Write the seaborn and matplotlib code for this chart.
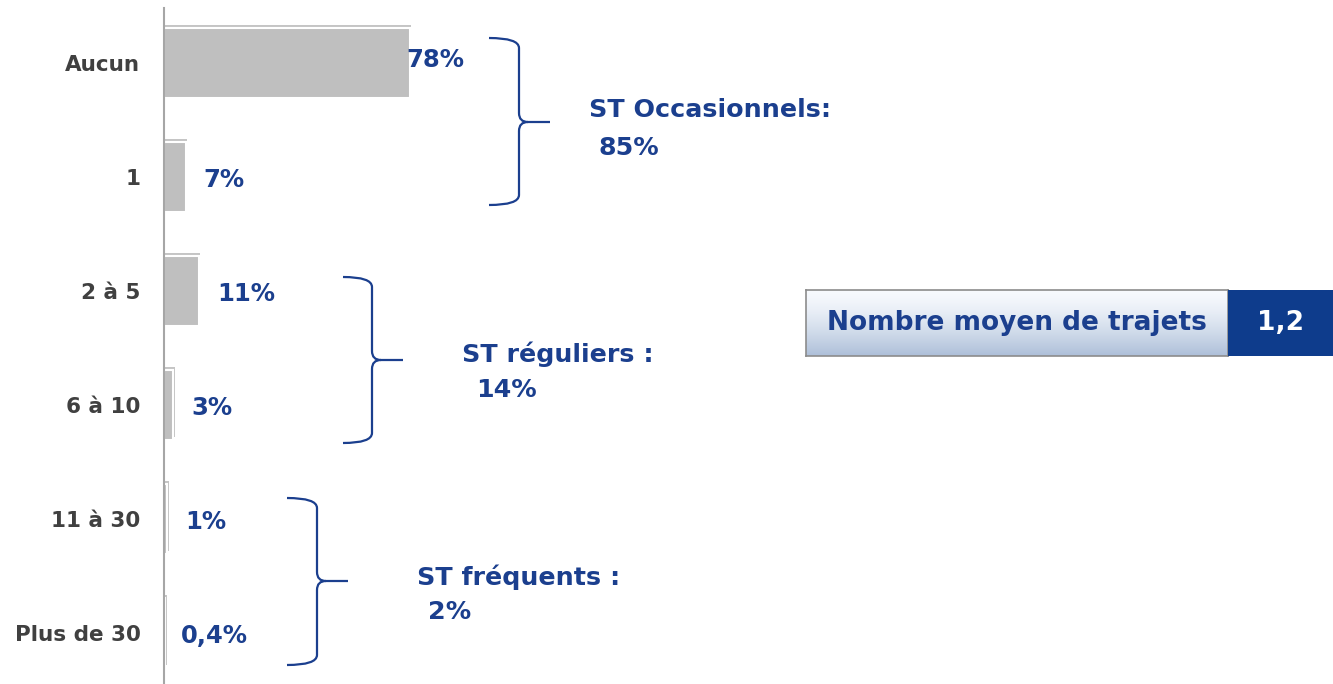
import matplotlib
matplotlib.use("Agg")
import matplotlib.pyplot as plt
import matplotlib.patheffects as pe
from matplotlib.path import Path
from matplotlib.patches import PathPatch
from matplotlib.transforms import Affine2D
import numpy as np
import seaborn as sns

# ---------------- data ----------------
categories = ["Aucun", "1", "2 à 5", "6 à 10", "11 à 30", "Plus de 30"]
values = [78, 7, 11, 3, 1, 0.4]
value_labels = ["78%", "7%", "11%", "3%", "1%", "0,4%"]
group_titles = ["ST Occasionnels:", "ST réguliers :", "ST fréquents :"]
group_values = ["85%", "14%", "2%"]
box_label = "Nombre moyen de trajets"
box_value = "1,2"

# ---------------- style ----------------
sns.set_theme(style="white")
plt.rcParams["font.family"] = ["DejaVu Sans"]
BLUE = "#1B3F8E"
DARK_BLUE = "#0E3C8C"
GREY_TXT = "#404040"
W, H = 1333, 684

fig = plt.figure(figsize=(W / 100, H / 100), dpi=100)
px = Affine2D().scale(1 / W, -1 / H).translate(0, 1) + fig.transFigure

ax = fig.add_axes([164 / W, 0, 1 - 164 / W, (H - 8) / H])
sns.barplot(x=values, y=categories, orient="h", color="#BFBFBF", saturation=1,
            width=0.614, edgecolor="white", linewidth=1.5, ax=ax)
for p in ax.patches:
    p.set_path_effects([pe.SimplePatchShadow(offset=(1, 2), shadow_rgbFace="#707070", alpha=0.4),
                        pe.Normal()])
ax.set_xlim(0, (W - 164) / 3.15)
ax.set_ylim(5 + 51 / 114, -55 / 114)
ax.set_xlabel("")
ax.set_ylabel("")
ax.set_xticks([])
for s in ["top", "right", "bottom"]:
    ax.spines[s].set_visible(False)
ax.spines["left"].set_color("#A6A6A6")
ax.spines["left"].set_linewidth(1.5)
ax.tick_params(axis="y", length=0, pad=17)
for t in ax.get_yticklabels():
    t.set_fontsize(15.5)
    t.set_fontweight("bold")
    t.set_color(GREY_TXT)

label_offsets = [-3, 17, 19, 18, 18, 16]  # px
for i, (v, lab) in enumerate(zip(values, value_labels)):
    ax.annotate(lab, xy=(v, i), xytext=(label_offsets[i] * 0.72, 2 if i == 0 else -2),
                textcoords="offset points", ha="left", va="center",
                fontsize=17.5, fontweight="bold", color=BLUE)

# ---------------- braces ----------------
def brace(xl, xm, xt, yt, ym, yb, r=10, rm=9):
    verts = [
        (xl, yt), (xm, yt), (xm, yt + r),
        (xm, ym - rm),
        (xm, ym), (xm + rm, ym),
        (xt, ym),
        (xm + rm, ym), (xm, ym), (xm, ym + rm),
        (xm, yb - r),
        (xm, yb), (xl, yb),
    ]
    codes = [Path.MOVETO, Path.CURVE3, Path.CURVE3,
             Path.LINETO,
             Path.CURVE3, Path.CURVE3,
             Path.LINETO,
             Path.MOVETO, Path.CURVE3, Path.CURVE3,
             Path.LINETO,
             Path.CURVE3, Path.CURVE3]
    fig.patches.append(PathPatch(Path(verts, codes), transform=px, fill=False,
                                 edgecolor=BLUE, linewidth=1.6))

brace(489, 519, 550, 38, 122, 205)
brace(343, 372, 403, 277, 360, 443)
brace(287, 317, 348, 498, 581, 665)

group_pos = [(589, 110, 599, 148), (462, 354, 476, 390), (417, 577, 428, 612)]
for (x1, y1, x2, y2), t, v in zip(group_pos, group_titles, group_values):
    fig.text(x1, y1, t, transform=px, ha="left", va="center",
             fontsize=18.3, fontweight="bold", color=BLUE)
    fig.text(x2, y2, v, transform=px, ha="left", va="center",
             fontsize=18.3, fontweight="bold", color=BLUE)

# ---------------- box ----------------
bx0, bx1, bx2, by0, by1 = 806, 1228, 1333, 290, 356
axb = fig.add_axes([bx0 / W, 1 - by1 / H, (bx1 - bx0) / W, (by1 - by0) / H])
t = np.linspace(0, 1, 100) ** 1.4
top = np.array([0.97, 0.98, 0.995])
bot = np.array([0.68, 0.75, 0.85])
grad = (top[None, :] * (1 - t[:, None]) + bot[None, :] * t[:, None])[:, None, :]
axb.imshow(grad, aspect="auto", extent=[0, 1, 0, 1], origin="upper")
axb.set_xticks([]); axb.set_yticks([])
for s in axb.spines.values():
    s.set_color("#8C8C8C"); s.set_linewidth(1.2)
axb.text(0.5, 0.5, box_label, transform=axb.transAxes, ha="center", va="center",
         fontsize=19, fontweight="bold", color=BLUE)

axv = fig.add_axes([bx1 / W, 1 - by1 / H, (bx2 - bx1) / W, (by1 - by0) / H])
axv.set_facecolor(DARK_BLUE)
axv.set_xticks([]); axv.set_yticks([])
for s in axv.spines.values():
    s.set_visible(False)
axv.text(0.5, 0.5, box_value, transform=axv.transAxes, ha="center", va="center",
         fontsize=19, fontweight="bold", color="white")

fig.savefig("out.png", dpi=100, facecolor="white")
